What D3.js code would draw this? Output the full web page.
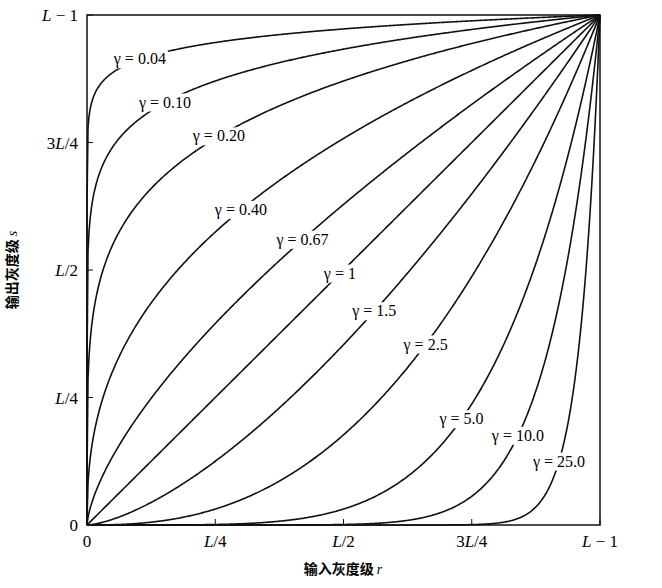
<!DOCTYPE html>
<html><head><meta charset="utf-8">
<script src="https://cdn.jsdelivr.net/npm/d3@7"></script>
<style>body{margin:0;background:#fff}</style>
</head><body><div id="chart-area"></div>
<script>
// gamma values of the curves s = r^gamma
var gammas = [0.04, 0.10, 0.20, 0.40, 0.67, 1, 1.5, 2.5, 5.0, 10.0, 25.0]
var labels = ["0.04", "0.10", "0.20", "0.40", "0.67", "1", "1.5", "2.5", "5.0", "10.0", "25.0"]
var labelR = [0.103, 0.152, 0.257, 0.30, 0.42, 0.493, 0.56, 0.66, 0.73, 0.84, 0.92]
var tickVals = [0, 0.25, 0.5, 0.75, 1]
var tickText = [["0"], ["L", "/4"], ["L", "/2"], ["3", "L", "/4"], ["L", " − 1"]]

var svg = d3.select("#chart-area").append("svg")
  .attr("width", 662)
  .attr("height", 588)

var x = d3.scaleLinear().domain([0, 1]).range([87, 600])
var y = d3.scaleLinear().domain([0, 1]).range([525, 15])

var rs = d3.range(0, 1.0001, 0.002)
var line = d3.line().x(d => x(d[0])).y(d => y(d[1]))

gammas.forEach(function(g) {
  var pts = rs.map(r => [r, Math.pow(r, g)])
  if (g < 1) pts = [[0, 0], [0.00001, Math.pow(0.00001, g)]].concat(pts.slice(1))
  svg.append("path")
    .attr("d", line(pts))
    .attr("fill", "none")
    .attr("stroke", "#111")
    .attr("stroke-width", 1.6)
})

// frame
svg.append("rect")
  .attr("x", 87).attr("y", 15)
  .attr("width", 513).attr("height", 510)
  .attr("fill", "none").attr("stroke", "#111").attr("stroke-width", 1.5)

function tickLabel(sel, parts) {
  parts.forEach(function(p) {
    sel.append("tspan").attr("font-style", p == "L" ? "italic" : "normal").text(p)
  })
}

tickVals.forEach(function(v, i) {
  svg.append("line").attr("x1", x(v)).attr("x2", x(v)).attr("y1", 525).attr("y2", 519).attr("stroke", "#111")
  svg.append("line").attr("x1", 87).attr("x2", 93).attr("y1", y(v)).attr("y2", y(v)).attr("stroke", "#111")
  var tx = svg.append("text").attr("x", x(v)).attr("y", 547)
    .attr("text-anchor", "middle").attr("font-family", "Liberation Serif").attr("font-size", 17)
  tickLabel(tx, tickText[i])
  var ty = svg.append("text").attr("x", 78).attr("y", y(v) + 6)
    .attr("text-anchor", "end").attr("font-family", "Liberation Serif").attr("font-size", 17)
  tickLabel(ty, tickText[i])
})

gammas.forEach(function(g, i) {
  var r = labelR[i]
  var t = svg.append("text")
    .attr("x", x(r)).attr("y", y(Math.pow(r, g)) + 5)
    .attr("text-anchor", "middle")
    .attr("font-family", "Liberation Serif").attr("font-size", 16)
    .text("γ = " + labels[i])
  var b = t.node().getBBox()
  svg.insert("rect", "text")
    .attr("x", b.x - 2).attr("y", b.y).attr("width", b.width + 4).attr("height", b.height)
    .attr("fill", "#fff")
})

var xt = svg.append("text").attr("x", 343).attr("y", 574).attr("text-anchor", "middle")
  .attr("font-family", "Noto Sans CJK SC").attr("font-size", 14).attr("font-weight", "bold")
xt.append("tspan").text("输入灰度级 ")
xt.append("tspan").attr("font-family", "Liberation Serif").attr("font-style", "italic").attr("font-weight", "normal").text("r")

var yt = svg.append("text").attr("transform", "translate(17,270) rotate(-90)").attr("text-anchor", "middle")
  .attr("font-family", "Noto Sans CJK SC").attr("font-size", 14).attr("font-weight", "bold")
yt.append("tspan").text("输出灰度级 ")
yt.append("tspan").attr("font-family", "Liberation Serif").attr("font-style", "italic").attr("font-weight", "normal").text("s")
</script>
</body></html>
